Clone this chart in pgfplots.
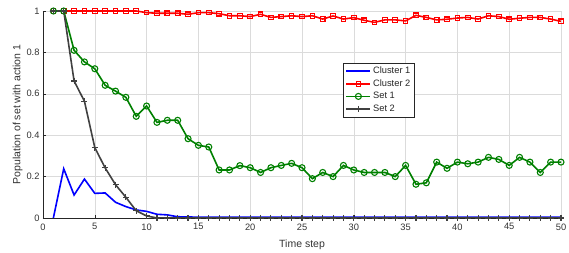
\documentclass[border=0pt]{standalone}
\usepackage{fontspec}
\setmainfont{Liberation Sans}
\usepackage{pgfplots}
\pgfplotsset{compat=1.18}
\begin{document}
\begin{tikzpicture}
\begin{axis}[
  scale only axis, width=518pt, height=207pt,
  xmin=0, xmax=50, ymin=0, ymax=1,
  xtick={0,5,...,50}, ytick={0,0.2,0.4,0.6,0.8,1},
  yticklabels={0,0.2,0.4,0.6,0.8,1},
  axis x line*=bottom, axis y line*=left,
  axis line style={black!85, line width=0.6pt, -},
  tick align=inside, major tick length=3pt,
  tick style={black!85, line width=0.5pt},
  grid=major, major grid style={black!14, line width=0.5pt},
  ticklabel style={font=\fontsize{9.3}{10}\selectfont, text=black!80},
  xticklabel style={yshift=-2pt},
  /pgf/number format/assume math mode=true,
  xlabel={Time step}, ylabel={Population of set with action 1},
  label style={font=\fontsize{10.5}{12}\selectfont, text=black!80},
  xlabel style={yshift=-3pt}, ylabel style={yshift=-3pt},
  legend style={at={(0.58,0.75)}, anchor=north west, font=\fontsize{9.3}{10}\selectfont,
    draw=black!85, inner sep=2pt, row sep=0.5pt,
    nodes={text=black!85}},
  legend cell align=left,
  legend image code/.code={\draw[mark repeat=2,mark phase=2] plot coordinates {(0cm,0cm)(0.42cm,0cm)(0.84cm,0cm)};},
  legend image post style={line width=1.6pt},
]
\addplot[blue, line width=1.6pt] coordinates {
(1,0)(2,0.238)(3,0.111)(4,0.188)(5,0.119)(6,0.121)(7,0.076)(8,0.055)(9,0.039)(10,0.032)
(11,0.018)(12,0.015)(13,0.006)(14,0.005)(15,0.004)(16,0.004)(17,0.004)(18,0.004)(19,0.004)(20,0.004)
(21,0.004)(22,0.004)(23,0.004)(24,0.004)(25,0.004)(26,0.004)(27,0.004)(28,0.004)(29,0.004)(30,0.004)
(31,0.004)(32,0.004)(33,0.004)(34,0.004)(35,0.004)(36,0.004)(37,0.004)(38,0.004)(39,0.004)(40,0.004)
(41,0.004)(42,0.004)(43,0.004)(44,0.004)(45,0.004)(46,0.004)(47,0.004)(48,0.004)(49,0.004)(50,0.004)};
\addlegendentry{Cluster 1}
\addplot[red, line width=1.6pt, mark=square, mark size=2.3pt, mark options={line width=1.1pt}] coordinates {
(1,1)(2,1)(3,1)(4,1)(5,1)(6,1)(7,1)(8,1)(9,1)(10,0.992)
(11,0.989)(12,0.989)(13,0.989)(14,0.984)(15,0.992)(16,0.992)(17,0.987)(18,0.977)(19,0.977)(20,0.973)
(21,0.984)(22,0.969)(23,0.973)(24,0.977)(25,0.973)(26,0.977)(27,0.961)(28,0.976)(29,0.961)(30,0.968)
(31,0.955)(32,0.945)(33,0.957)(34,0.957)(35,0.952)(36,0.979)(37,0.969)(38,0.957)(39,0.960)(40,0.966)
(41,0.969)(42,0.961)(43,0.977)(44,0.973)(45,0.960)(46,0.965)(47,0.969)(48,0.969)(49,0.961)(50,0.950)};
\addlegendentry{Cluster 2}
\addplot[green!50!black, line width=1.6pt, mark=o, mark size=3pt, mark options={line width=1.1pt}] coordinates {
(1,1)(2,1)(3,0.81)(4,0.754)(5,0.721)(6,0.641)(7,0.613)(8,0.583)(9,0.491)(10,0.541)
(11,0.462)(12,0.472)(13,0.472)(14,0.383)(15,0.351)(16,0.343)(17,0.232)(18,0.232)(19,0.253)(20,0.243)
(21,0.22)(22,0.243)(23,0.254)(24,0.264)(25,0.243)(26,0.19)(27,0.22)(28,0.20)(29,0.254)(30,0.232)
(31,0.22)(32,0.22)(33,0.22)(34,0.20)(35,0.254)(36,0.163)(37,0.17)(38,0.27)(39,0.24)(40,0.27)
(41,0.262)(42,0.27)(43,0.293)(44,0.283)(45,0.254)(46,0.293)(47,0.27)(48,0.22)(49,0.27)(50,0.27)};
\addlegendentry{Set 1}
\addplot[black!75, line width=1.6pt, mark=+, mark size=3pt, mark options={line width=1.1pt}] coordinates {
(1,1)(2,1)(3,0.662)(4,0.564)(5,0.34)(6,0.242)(7,0.161)(8,0.10)(9,0.035)(10,0.01)
(11,0)(12,0)(13,0)(14,0)(15,0)(16,0)(17,0)(18,0)(19,0)(20,0)
(21,0)(22,0)(23,0)(24,0)(25,0)(26,0)(27,0)(28,0)(29,0)(30,0)
(31,0)(32,0)(33,0)(34,0)(35,0)(36,0)(37,0)(38,0)(39,0)(40,0)
(41,0)(42,0)(43,0)(44,0)(45,0)(46,0)(47,0)(48,0)(49,0)(50,0)};
\addlegendentry{Set 2}
\end{axis}
\pgfresetboundingbox
\path[use as bounding box] (current axis.south west) ++(-43pt,-35pt) rectangle ([xshift=8pt,yshift=11pt]current axis.north east);
\end{tikzpicture}
\end{document}
